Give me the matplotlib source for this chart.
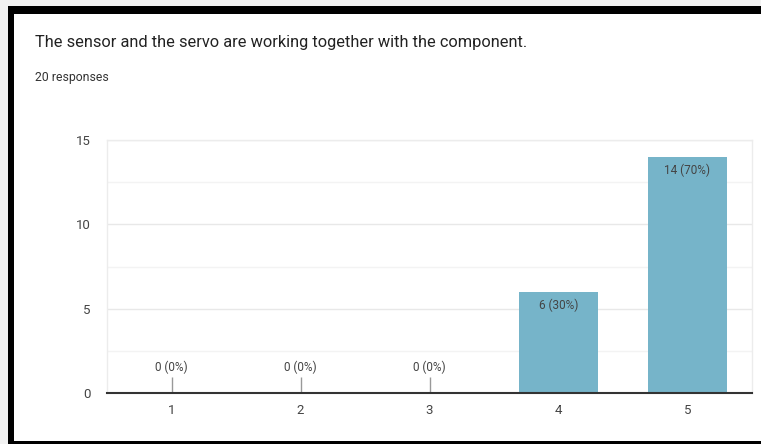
import matplotlib
matplotlib.use("Agg")
import matplotlib.pyplot as plt
from matplotlib.patches import Rectangle

plt.rcParams['font.family'] = ['Roboto', 'DejaVu Sans']

title = "The sensor and the servo are working together with the component."
subtitle = "20 responses"
categories = ["1", "2", "3", "4", "5"]
counts = [0, 0, 0, 6, 14]
total = 20

bar_color = '#76b4c9'
text_color = '#444444'

W, H = 761, 444
fig = plt.figure(figsize=(W / 100, H / 100), dpi=100)
fig.patch.set_facecolor('white')


def px_rect(x0, y0, x1, y1, color):
    # rectangle in pixel coords measured from top-left
    fig.patches.append(Rectangle((x0 / W, 1 - y1 / H), (x1 - x0) / W, (y1 - y0) / H,
                                 transform=fig.transFigure, facecolor=color,
                                 edgecolor='none', zorder=0))


# black frame around the card (left, top, bottom)
px_rect(0, 0, W, 6, '#f2f2f2')
px_rect(0, 0, 8, H, '#f2f2f2')
px_rect(8, 6, W, 14, 'black')
px_rect(8, 6, 14, H, 'black')
px_rect(8, 441, W, H, 'black')

fig.text(35 / W, 1 - 42 / H, title, fontsize=11.8, color='#222222', va='center', ha='left')
fig.text(35 / W, 1 - 78 / H, subtitle, fontsize=8.8, color='#333333', va='center', ha='left')

ax = fig.add_axes([107 / W, 51 / H, 645 / W, 253 / H])
x = list(range(1, len(categories) + 1))
ax.bar(x, counts, width=0.62, color=bar_color, zorder=3)

for xi, c in zip(x, counts):
    label = f"{c} ({round(100 * c / total)}%)"
    if c == 0:
        ax.vlines(xi, 0, 0.92, color='#999999', linewidth=1, zorder=3)
        ax.annotate(label, (xi, 0), xytext=(0, 13.5), textcoords='offset points',
                    ha='center', va='bottom', fontsize=8.5, color=text_color)
    else:
        ax.annotate(label, (xi, c), xytext=(0, -5), textcoords='offset points',
                    ha='center', va='top', fontsize=8.5, color=text_color, zorder=4)

ax.set_xlim(0.5, len(categories) + 0.5)
ax.set_ylim(0, 15)
ax.set_xticks(x)
ax.set_xticklabels(categories)
ax.set_yticks([0, 5, 10, 15])
ax.set_yticks([2.5, 7.5, 12.5], minor=True)
ax.grid(axis='y', which='major', color='#e8e8e8', linewidth=1, zorder=0)
ax.grid(axis='y', which='minor', color='#f3f3f3', linewidth=1, zorder=0)
ax.tick_params(axis='both', which='both', length=0, labelsize=9.5, colors=text_color)
ax.tick_params(axis='y', pad=12)
ax.tick_params(axis='x', pad=8)
for s in ['left', 'right', 'top']:
    ax.spines[s].set_color('#ececec')
    ax.spines[s].set_linewidth(1)
ax.spines['bottom'].set_color('#333333')
ax.spines['bottom'].set_linewidth(1.5)
ax.spines['bottom'].set_zorder(5)

fig.savefig("out.png", dpi=100)
